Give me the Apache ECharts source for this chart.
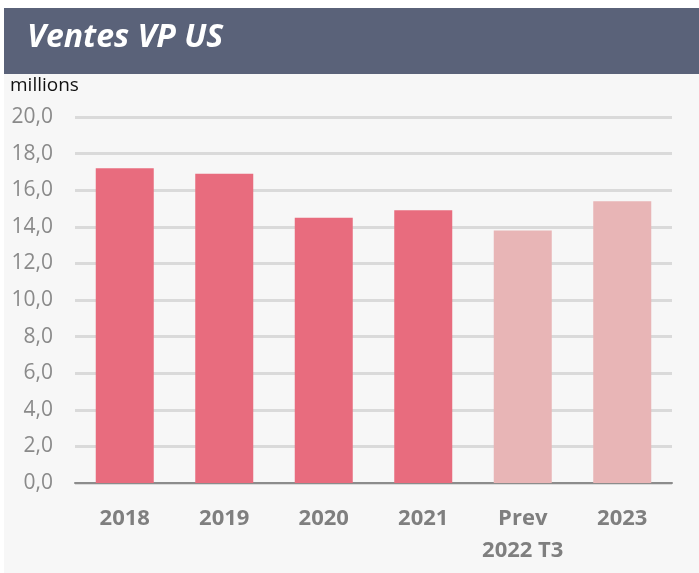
<!DOCTYPE html>
<html>
<head>
<meta charset="utf-8">
<script src="https://cdn.jsdelivr.net/npm/echarts@6/dist/echarts.min.js"></script>
<style>
  html, body { margin: 0; padding: 0; background: #ffffff; }
  #chart { width: 699px; height: 573px; }
</style>
</head>
<body>
<div id="chart"></div>
<script>
// catégories et valeurs (millions)
const categories = ['2018', '2019', '2020', '2021', 'Prev\n2022 T3', '2023'];
const ventes = [17.2, 16.9, 14.5, 14.9, 13.8, 15.4];
const prevision = [false, false, false, false, true, true];

const myChart = echarts.init(document.getElementById('chart'));

const option = {
  animation: false,
  graphic: [
    // fond gris clair
    { type: 'rect', z: -10, shape: { x: 4, y: 74, width: 695, height: 499 }, style: { fill: '#f7f7f7' } },
    // bandeau du titre
    { type: 'rect', z: -9, shape: { x: 4, y: 8, width: 695, height: 66 }, style: { fill: '#5a6279' } },
    {
      type: 'text', left: 27, top: 22,
      style: { text: 'Ventes VP US', fill: '#ffffff', font: 'italic bold 32px "Open Sans", sans-serif' }
    },
    {
      type: 'text', left: 10, top: 76,
      style: { text: 'millions', fill: '#111111', font: '500 19px "Open Sans", sans-serif' }
    }
  ],
  grid: { left: 75, right: 27, top: 117, bottom: 90 },
  xAxis: {
    type: 'category',
    data: categories,
    axisLine: { lineStyle: { color: '#8c8c8c', width: 2 } },
    axisTick: { show: false },
    axisLabel: {
      interval: 0,
      color: '#7f7f7f',
      fontSize: 22,
      fontWeight: 'bold',
      fontFamily: '"Open Sans", sans-serif',
      lineHeight: 32,
      margin: 20
    }
  },
  yAxis: {
    type: 'value',
    min: 0,
    max: 20,
    interval: 2,
    axisLine: { show: false },
    axisTick: { show: false },
    splitLine: { lineStyle: { color: '#dadada', width: 3 } },
    axisLabel: {
      color: '#8a8a8a',
      fontSize: 21,
      fontFamily: '"Open Sans", sans-serif',
      margin: 22,
      formatter: v => v.toFixed(1).replace('.', ',')
    }
  },
  series: [
    {
      type: 'bar',
      barWidth: 58,
      data: ventes.map((v, i) => ({
        value: v,
        itemStyle: { color: prevision[i] ? '#e8b5b6' : '#e86c7e' }
      }))
    }
  ]
};

myChart.setOption(option);
</script>
</body>
</html>
